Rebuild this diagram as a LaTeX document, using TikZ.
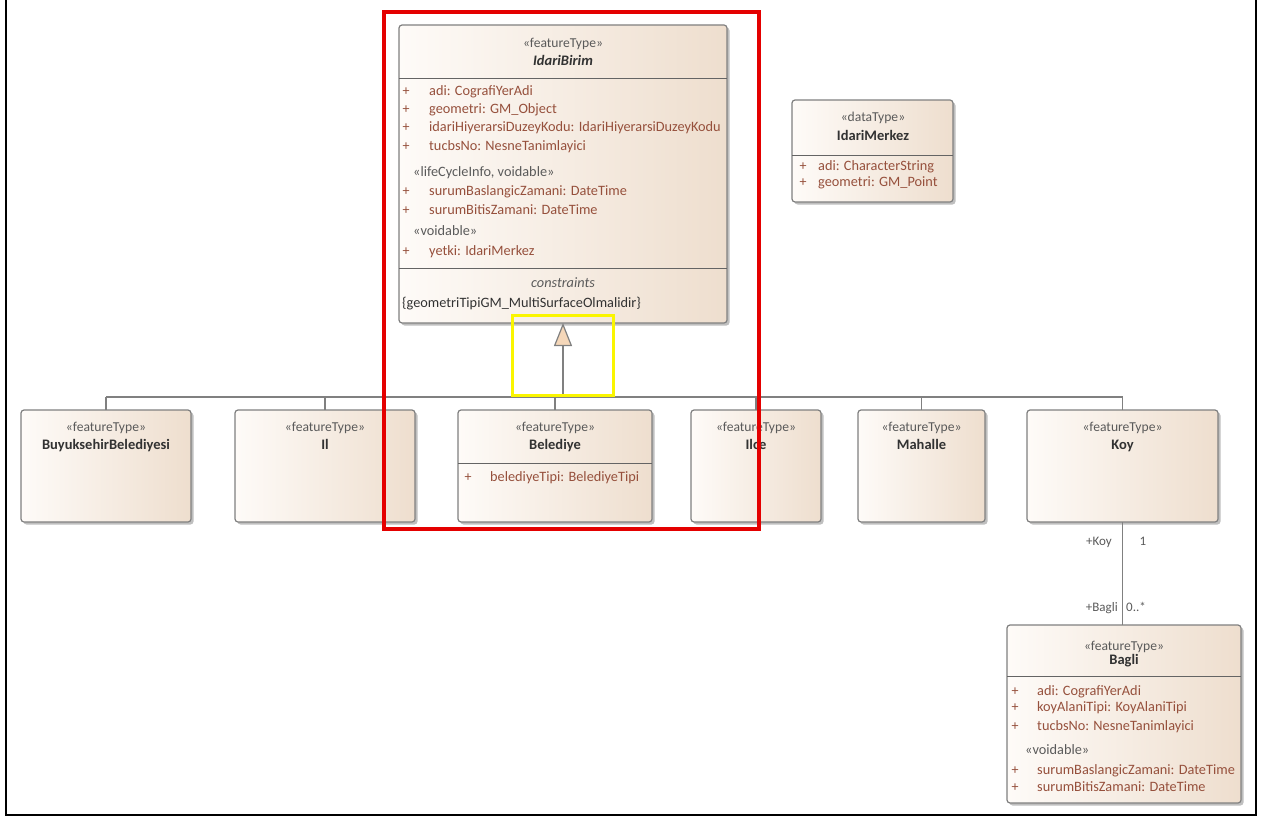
\documentclass[tikz,border=0pt]{standalone}
\usepackage{fontspec}
\setmainfont{Carlito}
\usetikzlibrary{arrows.meta,shadows}
\definecolor{boxl}{RGB}{254,251,248}
\definecolor{boxr}{RGB}{238,222,206}
\definecolor{boxline}{RGB}{128,128,128}
\definecolor{divline}{RGB}{100,100,100}
\definecolor{attrc}{RGB}{150,80,60}
\definecolor{sterc}{RGB}{90,90,90}
\definecolor{namec}{RGB}{50,50,50}
\definecolor{conn}{RGB}{128,128,128}
\definecolor{trifill}{RGB}{245,215,185}
\definecolor{hlred}{RGB}{228,0,0}
\definecolor{hlyellow}{RGB}{250,245,0}
\newcommand\fsz[1]{\fontsize{#1}{#1}\selectfont}
\newcommand\attrrow[5]{%
  \node[plus] (#1p) at (#2,#4) {+};
  \node[attr] (#1) at (#3,#4) {#5};}
\begin{document}
\begin{tikzpicture}[x=1pt,y=-1pt,
 cls/.style={draw=boxline, line width=1.2pt, rounded corners=3pt, left color=boxl, right color=boxr, anchor=north west, inner sep=0pt, outer sep=0pt, drop shadow={shadow xshift=2.5pt, shadow yshift=-2.5pt, fill=black, opacity=0.25}},
 ster/.style={text=sterc, font=\fsz{13.6}, inner sep=0pt, anchor=mid},
 cname/.style={text=namec, font=\fsz{14.5}\bfseries, inner sep=0pt, anchor=mid},
 attr/.style={text=attrc, font=\fsz{14.3}, inner sep=0pt, anchor=mid west},
 plus/.style={text=attrc, font=\fsz{14}, inner sep=0pt, anchor=mid},
 sec/.style={text=sterc, font=\fsz{14.3}, inner sep=0pt, anchor=mid west},
 divider/.style={draw=divline, line width=1pt},
 conline/.style={draw=conn, line width=1.2pt},
 lbl/.style={text=sterc, font=\fsz{13}, inner sep=0pt},
]
\useasboundingbox (0,0) rectangle (1267,816);
% outer frame
\draw[line width=2pt, black] (6,0) -- (6,815) -- (1256,815) -- (1256,0);

% ---------- IdariBirim ----------
\node[cls, minimum width=328pt, minimum height=298pt] (idari) at (399,25) {};
\node[ster] (idst) at (563,45) {«featureType»};
\node[cname, font=\fsz{14.5}\bfseries\itshape] (idnm) at (563,63) {IdariBirim};
\draw[divider] (idari.west |- 0,79) -- (idari.east |- 0,79);
\attrrow{ia1}{406}{429}{93}{adi: CografiYerAdi}
\attrrow{ia2}{406}{429}{111}{geometri: GM\_Object}
\attrrow{ia3}{406}{429}{129}{idariHiyerarsiDuzeyKodu: IdariHiyerarsiDuzeyKodu}
\attrrow{ia4}{406}{429}{148}{tucbsNo: NesneTanimlayici}
\node[sec] (ilc) at (413,174) {«lifeCycleInfo, voidable»};
\attrrow{ia5}{406}{429}{193}{surumBaslangicZamani: DateTime}
\attrrow{ia6}{406}{429}{212}{surumBitisZamani: DateTime}
\node[sec] (ivd) at (413,233) {«voidable»};
\attrrow{ia7}{406}{429}{253}{yetki: IdariMerkez}
\draw[divider] (idari.west |- 0,268) -- (idari.east |- 0,268);
\node[ster, font=\fsz{14.3}\itshape] (icn) at (563,285) {constraints};
\node[sec, text=namec] (icv) at (402,305) {\{geometriTipiGM\_MultiSurfaceOlmalidir\}};

% ---------- IdariMerkez ----------
\node[cls, minimum width=161pt, minimum height=102pt] (merkez) at (792,100) {};
\node[ster] (mst) at (873,119) {«dataType»};
\node[cname] (mnm) at (873,138) {IdariMerkez};
\draw[divider] (merkez.west |- 0,155) -- (merkez.east |- 0,155);
\attrrow{ma1}{803}{818}{168}{adi: CharacterString}
\attrrow{ma2}{803}{818}{184}{geometri: GM\_Point}

% ---------- subclasses ----------
\node[cls, minimum width=170pt, minimum height=112pt] (buy) at (21,410) {};
\node[ster] (bst) at (buy.north |- 0,429) {«featureType»};
\node[cname] (bnm) at (buy.north |- 0,447) {BuyuksehirBelediyesi};

\node[cls, minimum width=180pt, minimum height=112pt] (il) at (235,410) {};
\node[ster] (ilst) at (il.north |- 0,429) {«featureType»};
\node[cname] (ilnm) at (il.north |- 0,447) {Il};

\node[cls, minimum width=194pt, minimum height=112pt] (bel) at (458,410) {};
\node[ster] (best) at (bel.north |- 0,429) {«featureType»};
\node[cname] (benm) at (bel.north |- 0,447) {Belediye};
\draw[divider] (bel.west |- 0,463) -- (bel.east |- 0,463);
\attrrow{ba1}{468}{490}{479}{belediyeTipi: BelediyeTipi}

\node[cls, minimum width=130pt, minimum height=112pt] (ilce) at (691,410) {};
\node[ster] (icst) at (ilce.north |- 0,429) {«featureType»};
\node[cname] (icnm) at (ilce.north |- 0,447) {Ilce};

\node[cls, minimum width=127pt, minimum height=112pt] (mah) at (858,410) {};
\node[ster] (mhst) at (mah.north |- 0,429) {«featureType»};
\node[cname] (mhnm) at (mah.north |- 0,447) {Mahalle};

\node[cls, minimum width=191pt, minimum height=112pt] (koy) at (1027,410) {};
\node[ster] (kst) at (koy.north |- 0,429) {«featureType»};
\node[cname] (knm) at (koy.north |- 0,447) {Koy};

% ---------- Bagli ----------
\node[cls, minimum width=234pt, minimum height=178pt] (bagli) at (1007,625) {};
\node[ster] (gst) at (bagli.north |- 0,648) {«featureType»};
\node[cname] (gnm) at (bagli.north |- 0,662) {Bagli};
\draw[divider] (bagli.west |- 0,676) -- (bagli.east |- 0,676);
\attrrow{ga1}{1015}{1037}{693}{adi: CografiYerAdi}
\attrrow{ga2}{1015}{1037}{709}{koyAlaniTipi: KoyAlaniTipi}
\attrrow{ga3}{1015}{1037}{728}{tucbsNo: NesneTanimlayici}
\node[sec] (gvd) at (1025,752) {«voidable»};
\attrrow{ga4}{1015}{1037}{772}{surumBaslangicZamani: DateTime}
\attrrow{ga5}{1015}{1037}{789}{surumBitisZamani: DateTime}

% ---------- generalization ----------
\coordinate (trunk) at (563,397);
\draw[conline, -{Triangle[length=23pt, width=18pt, fill=trifill, line width=1.2pt]}] (trunk) -- (idari.south);
\draw[conline] (buy.north |- trunk) -- (koy.north |- trunk);
\foreach \c in {buy,il,bel,ilce,mah,koy}
  \draw[conline] (\c.north) -- (\c.north |- trunk);

% ---------- association ----------
\draw[conline] (koy.south) -- (koy.south |- bagli.north);
\node[lbl, anchor=mid east] (rk) at (1112,543) {+Koy};
\node[lbl, anchor=mid] (mk) at (1143,543) {1};
\node[lbl, anchor=mid east] (rb) at (1118,609) {+Bagli};
\node[lbl, anchor=mid west] (mb) at (1126,609) {0..*};

% ---------- highlights ----------
\draw[hlred, line width=4pt] (384,12) rectangle (759,529);
\draw[hlyellow, line width=3pt] (512,315) rectangle (613,395);
\end{tikzpicture}
\end{document}
